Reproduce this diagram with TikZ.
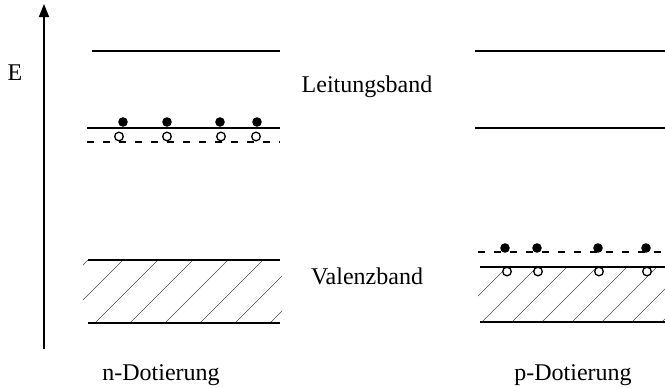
\documentclass[tikz,border=0pt]{standalone}
\usepackage{fontspec}
\setmainfont{Liberation Serif}
\usetikzlibrary{arrows.meta}
\begin{document}
\begin{tikzpicture}[x=1pt,y=-1pt,
  band/.style={line width=1.6pt},
  level/.style={line width=1.4pt,dash pattern=on 7pt off 9pt},
  hatch/.style={line width=0.5pt,black!70},
  electron/.style={fill=black},
  hole/.style={draw=black,fill=white,line width=1.3pt},
  lbl/.style={font=\fontsize{24}{27}\selectfont,inner sep=0pt}]
\useasboundingbox (0,0) rectangle (665,388);

% energy axis
\draw[line width=1.6pt,-{Triangle[length=13pt,width=10pt]}] (44,349) -- (44,4);
\node[lbl] (E) at (15,73) {E};

% ---- n-doping ----
\draw[band] (92,51) -- (280,51);
\draw[band] (87,128) -- (280,128);
\draw[level] (87,142) -- (280,142);
\begin{scope}
  \clip (83,260) rectangle (282,323);
  \foreach \x in {25,60,95,130,165,200,235,270}
    \draw[hatch] (\x,323) -- ++(63,-63);
\end{scope}
\draw[band] (88,260) -- (280,260);
\draw[band] (88,323) -- (280,323);
\foreach \x in {123,167,220,257}
  \fill[electron] (\x,122) circle (4.8);
\foreach \x in {119,167,221,256}
  \draw[hole] (\x,136.5) circle (4.3);

% ---- p-doping ----
\draw[band] (475,51) -- (665,51);
\draw[band] (475,128) -- (665,128);
\draw[level] (478,252) -- (665,252);
\begin{scope}
  \clip (478,267) rectangle (665,322);
  \foreach \x in {422,452,482,512,542,572,602,632,662}
    \draw[hatch] (\x,322) -- ++(55,-55);
\end{scope}
\draw[band] (480,267) -- (665,267);
\draw[band] (480,322) -- (665,322);
\foreach \x in {505,537,598,646}
  \fill[electron] (\x,248) circle (4.8);
\foreach \x in {507,538,599,647}
  \draw[hole] (\x,271.5) circle (4.3);

% labels
\node[lbl] (cb) at (367,87) {Leitungsband};
\node[lbl] (vb) at (367,276) {Valenzband};
\node[lbl] (nd) at (161,375) {n-Dotierung};
\node[lbl] (pd) at (573,375) {p-Dotierung};
\end{tikzpicture}
\end{document}
